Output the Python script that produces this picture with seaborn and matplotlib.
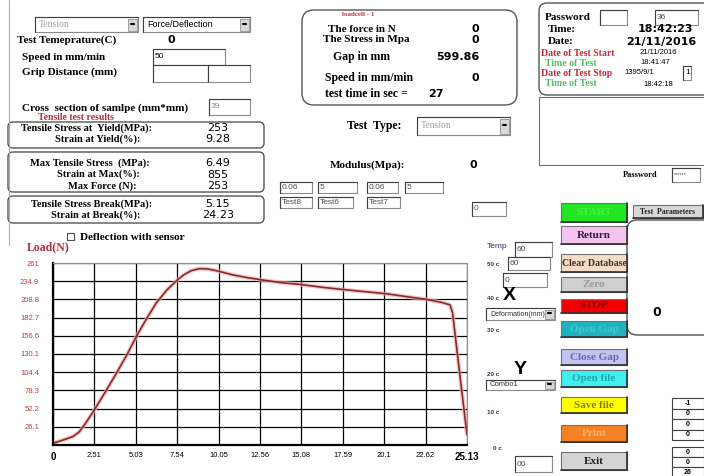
import matplotlib
matplotlib.use("Agg")
import matplotlib.pyplot as plt
import seaborn as sns
from matplotlib.patches import Rectangle, FancyBboxPatch

# 데이터 - 하중/변형 곡선
deflection = [0, 0.6, 1.2, 1.6, 2.0, 2.5, 3.2, 3.85, 4.5, 5.07, 5.7, 6.28, 6.9, 7.56,
              8.0, 8.4, 8.9, 9.4, 10.1, 10.9, 11.8, 12.6, 13.8, 15.1, 16.4, 17.6,
              18.9, 20.2, 21.4, 22.6, 23.5, 24.1, 24.25, 24.5, 24.8, 25.13]
load = [2.5, 7, 12, 19, 32, 50, 77, 103, 130, 156, 182, 204, 222, 237,
        245, 250, 253, 252.5, 249, 244, 240, 237, 233, 230, 226, 223,
        220, 217, 213, 209, 205, 201, 190, 140, 80, 15]

x_ticks = [0, 2.513, 5.026, 7.539, 10.052, 12.565, 15.078, 17.591, 20.104, 22.617, 25.13]
x_tick_labels = ["0", "2.51", "5.03", "7.54", "10.05", "12.56", "15.08", "17.59", "20.1", "22.62", "25.13"]
y_ticks = [26.1, 52.2, 78.3, 104.4, 130.5, 156.6, 182.7, 208.8, 234.9, 261]
y_tick_labels = ["26.1", "52.2", "78.3", "104.4", "130.1", "156.6", "182.7", "208.8", "234.9", "261"]

# 결과 값
result_labels_1 = ["Tensile Stress at  Yield(MPa):", "Strain at Yield(%):"]
result_values_1 = ["253", "9.28"]
result_labels_2 = ["Max Tensile Stress  (MPa):", "Strain at Max(%):", "Max Force (N):"]
result_values_2 = ["6.49", "855", "253"]
result_labels_3 = ["Tensile Stress Break(MPa):", "Strain at Break(%):"]
result_values_3 = ["5.15", "24.23"]

# 버튼
button_labels = ["Return", "Clear Database", "Zero", "STOP", "Open Gap", "Close Gap", "Open file", "Save file", "Print", "Exit"]
button_colors = ["#f2c4ef", "#f3dcc9", "#cfcfcf", "#f40000", "#1fb3c0", "#c3c3f2", "#3ff0f0", "#ffff00", "#f58225", "#d4d4d4"]
button_text_colors = ["#3a1a3a", "#4a2a10", "#9a9a9a", "#7a0000", "#45c5d0", "#6a6ab0", "#20a8b0", "#8a7a10", "#ffb070", "#202020"]
button_tops = [226, 254, 277, 299, 321, 349, 370, 397, 425, 452]
button_bottoms = [244, 272, 292, 313, 337, 365, 387, 413, 442, 470]

temp_labels = ["50 c", "40 c", "30 c", "20 c", "10 c", "0 c"]
temp_label_y = [265, 298, 331, 375, 412, 448]
small_cells_1 = ["-1", "0", "0", "0"]
small_cells_2 = ["0", "0", "26"]

SERIF = "Liberation Serif"
SANS = "Liberation Sans"
NUM = "DejaVu Sans"

sns.set_theme(style="white")
plt.rcParams["font.family"] = ["Liberation Serif", "DejaVu Sans"]

fig = plt.figure(figsize=(7.04, 4.76), dpi=100)
fig.patch.set_facecolor("white")
ui = fig.add_axes([0, 0, 1, 1])
ui.set_xlim(0, 704)
ui.set_ylim(476, 0)
ui.axis("off")


def txt(x, y, s, size=8, family=SERIF, weight="bold", color="black", ha="left"):
    ui.text(x, y, s, fontsize=size, family=family, fontweight=weight, color=color, ha=ha, va="center")


def box(x0, y0, x1, y1, fc="white", ec="#8a8a8a", lw=0.8):
    ui.add_patch(Rectangle((x0, y0), x1 - x0, y1 - y0, fc=fc, ec=ec, lw=lw))


def rbox(x0, y0, x1, y1, r=8):
    ui.add_patch(FancyBboxPatch((x0, y0), x1 - x0, y1 - y0,
                                boxstyle=f"round,pad=0,rounding_size={r}",
                                fc="none", ec="#555555", lw=1.0))


def field(x0, y0, x1, y1, s="", color="#505050", size=6):
    box(x0, y0, x1, y1)
    ui.plot([x0, x1], [y0, y0], color="#404040", lw=0.8)
    ui.plot([x0, x0], [y0, y1], color="#404040", lw=0.8)
    if s:
        txt(x0 + 2, (y0 + y1) / 2, s, size=size, family=SANS, weight="normal", color=color)


def combo(x0, y0, x1, y1, s, color="#606060", family=SANS, size=6.5):
    field(x0, y0, x1, y1)
    box(x1 - 10, y0 + 1.5, x1 - 1.5, y1 - 1.5, fc="#d8d8d8", ec="#909090", lw=0.6)
    ui.plot([x1 - 7.5, x1 - 4], [(y0 + y1) / 2 - 1, (y0 + y1) / 2 - 1], color="black", lw=1.5)
    txt(x0 + 4, (y0 + y1) / 2, s, size=size, family=family, weight="normal", color=color)


def button(x0, y0, x1, y1, fc, s, tc, size=8):
    box(x0, y0, x1, y1, fc=fc, ec="#707070", lw=0.8)
    ui.plot([x0, x1], [y1, y1], color="#303030", lw=1.2)
    ui.plot([x1, x1], [y0, y1], color="#303030", lw=1.2)
    txt((x0 + x1) / 2, (y0 + y1) / 2, s, size=size, color=tc, ha="center")


# 왼쪽 테두리
ui.plot([9, 9], [0, 245], color="#b0b0b0", lw=0.8)

# 왼쪽 위 설정 영역
combo(35, 17, 138, 32, "Tension", color="#a0a0a0", family=SERIF, size=7)
combo(143, 17, 250, 32, "Force/Deflection", color="black")
txt(17, 40, "Test Temeprature(C)")
txt(167, 40, "0", size=8, family=NUM)
txt(22, 57, "Speed in mm/min")
field(153, 49, 225, 65, "50", color="black")
txt(22, 72, "Grip Distance (mm)")
field(153, 65, 208, 82)
field(208, 65, 250, 82)
txt(22, 108, "Cross  section of samlpe (mm*mm)")
field(209, 99, 250, 115, "39", color="#909090")
txt(38, 117, "Tensile test results", size=7, color="#b03040")

# 결과 박스
rbox(8, 122, 264, 148, r=5)
for i, (lab, val) in enumerate(zip(result_labels_1, result_values_1)):
    yy = 128 + i * 11
    txt(152 if i == 0 else 140, yy, lab, size=7.5, ha="right")
    txt(218, yy, val, size=8, family=NUM, weight="normal", ha="center")
rbox(8, 152, 264, 192, r=5)
for i, (lab, val) in enumerate(zip(result_labels_2, result_values_2)):
    yy = 163 + i * 11.5
    txt([150, 140, 136][i], yy, lab, size=7.5, ha="right")
    txt(218, yy, val, size=8, family=NUM, weight="normal", ha="center")
rbox(8, 196, 264, 223, r=5)
for i, (lab, val) in enumerate(zip(result_labels_3, result_values_3)):
    yy = 204 + i * 11
    txt(152 if i == 0 else 140, yy, lab, size=7.5, ha="right")
    txt(218, yy, val, size=8, family=NUM, weight="normal", ha="center")

# 로드셀 박스
rbox(302, 10, 517, 105, r=12)
txt(342, 15, "loadcell - 1", size=5, color="#c03040")
txt(328, 29, "The force in N")
txt(471, 29, "0", size=8, family=NUM)
txt(323, 40, "The Stress in Mpa")
txt(471, 40, "0", size=8, family=NUM)
txt(333, 57, "Gap in mm", size=8.5)
txt(479, 57, "599.86", size=8, family=NUM, ha="right")
txt(325, 78, "Speed in mm/min", size=8.5)
txt(471, 78, "0", size=8, family=NUM)
txt(325, 94, "test time in sec =", size=8.5)
txt(428, 94, "27", size=8, family=NUM)

txt(347, 126, "Test  Type:", size=8.5)
combo(417, 117, 510, 135, "Tension", color="#a0a0a0", family=SERIF, size=7)
txt(330, 165, "Modulus(Mpa):")
txt(470, 165, "0", size=8, family=NUM)
field(280, 182, 312, 193, "0.06")
field(318, 182, 357, 193, "5")
field(367, 182, 398, 193, "0.06")
field(405, 182, 443, 193, "5")
field(280, 197, 312, 208, "Test8")
field(318, 197, 353, 208, "Test6")
field(367, 197, 400, 208, "Test7")
field(472, 202, 506, 216, "0")

# 오른쪽 위 정보 패널
rbox(539, 3, 712, 95, r=8)
txt(545, 17, "Password")
field(600, 10, 627, 25)
field(655, 10, 698, 25, "36")
txt(548, 29.5, "Time:")
txt(693, 29.5, "18:42:23", size=8, family=NUM, ha="right")
txt(548, 41.5, "Date:")
txt(696, 41.5, "21/11/2016", size=8, family=NUM, ha="right")
txt(541, 53, "Date of Test Start", size=7, color="#c02838")
txt(640, 53, "21/11/2016", size=5.5, family=SANS, weight="normal")
txt(545, 63, "Time of Test", size=7, color="#50c060")
txt(640, 63, "18:41:47", size=5.5, family=SANS, weight="normal")
txt(541, 73, "Date of Test Stop", size=7, color="#c02838")
txt(624, 73, "1395/9/1", size=5.5, family=SANS, weight="normal")
field(683, 66, 691, 80, "1", color="black")
txt(545, 84, "Time of Test", size=7, color="#50c060")
txt(643, 84, "18:42:18", size=5.5, family=SANS, weight="normal")
box(539, 97, 712, 165, ec="#707070")
txt(623, 175, "Password", size=6)
field(672, 168, 700, 182, "******", size=4)

# 버튼
button(561, 203, 627, 222, "#22e622", "START", "#44f044")
button(633, 205, 703, 218, "#d8d8d8", "Test  Parameters", "#202020", size=5.5)
ui.add_patch(FancyBboxPatch((627, 220), 90, 115, boxstyle="round,pad=0,rounding_size=10",
                            fc="white", ec="#505050", lw=1.0))
txt(652, 312, "0", size=9, family=NUM)
for lab, fc, tc, t0, t1 in zip(button_labels, button_colors, button_text_colors, button_tops, button_bottoms):
    button(561, t0, 627, t1, fc, lab, tc, size=7 if lab == "Clear Database" else 8)

# 온도 / 축 선택
txt(487, 247, "Temp", size=6, family=SANS, weight="normal", color="#303060")
field(515, 242, 552, 257, "60")
field(508, 257, 550, 270, "60")
field(503, 273, 547, 287, "0")
for lab, yy in zip(temp_labels, temp_label_y):
    txt(487 if lab != "0 c" else 493, yy, lab, size=4.5, family=SANS, weight="bold", color="#303060")
txt(509, 296, "X", size=14, family=SANS, ha="center")
combo(486, 308, 555, 320, "Deformation(mm)", color="#303030", size=5)
txt(520, 369, "Y", size=14, family=SANS, ha="center")
combo(486, 380, 555, 390, "Combo1", color="#303030", size=5.5)
field(515, 456, 552, 472, "00")

for i, s in enumerate(small_cells_1):
    y0 = 398 + i * 10.5
    box(672, y0, 704, y0 + 10.5, ec="#404040")
    txt(688, y0 + 5.2, s, size=5, family=SANS, ha="center")
for i, s in enumerate(small_cells_2):
    y0 = 447 + i * 10
    box(672, y0, 704, y0 + 10, ec="#404040")
    txt(688, y0 + 5, s, size=5, family=SANS, ha="center")

# 그래프 제목
box(67, 233, 74, 240, ec="#505050")
txt(80, 237, "Deflection with sensor", size=8)
txt(27, 247, "Load(N)", size=8.5, color="#b03040")

# 하중-변형 그래프
ax = fig.add_axes([53 / 704, 1 - 445 / 476, (467 - 53) / 704, (445 - 263) / 476])
sns.lineplot(x=deflection, y=load, ax=ax, color="#f0b0b0", lw=3.0, alpha=0.7)
sns.lineplot(x=deflection, y=load, ax=ax, color="#8c2a2a", lw=1.2)
ax.set_xlim(0, 25.13)
ax.set_ylim(0, 261)
ax.set_xticks(x_ticks)
ax.set_xticklabels(x_tick_labels)
ax.set_yticks(y_ticks)
ax.set_yticklabels(y_tick_labels)
ax.tick_params(axis="x", labelsize=5.5, colors="black", length=0, pad=5)
ax.tick_params(axis="y", labelsize=5.5, labelcolor="#b04048", length=0, pad=10)
for lab in ax.get_xticklabels():
    lab.set_family(SANS)
    if lab.get_text() in ("0", "25.13"):
        lab.set_fontsize(7)
        lab.set_fontweight("bold")
for lab in ax.get_yticklabels():
    lab.set_family(SANS)
ax.grid(True, color="black", lw=0.9)
ax.set_axisbelow(True)
for side in ["top", "right"]:
    ax.spines[side].set_color("#909090")
    ax.spines[side].set_linewidth(0.8)
for side in ["left", "bottom"]:
    ax.spines[side].set_color("black")
    ax.spines[side].set_linewidth(1.6)
ax.set_xlabel("")
ax.set_ylabel("")

fig.savefig("out.png", dpi=100)
plt.close(fig)
